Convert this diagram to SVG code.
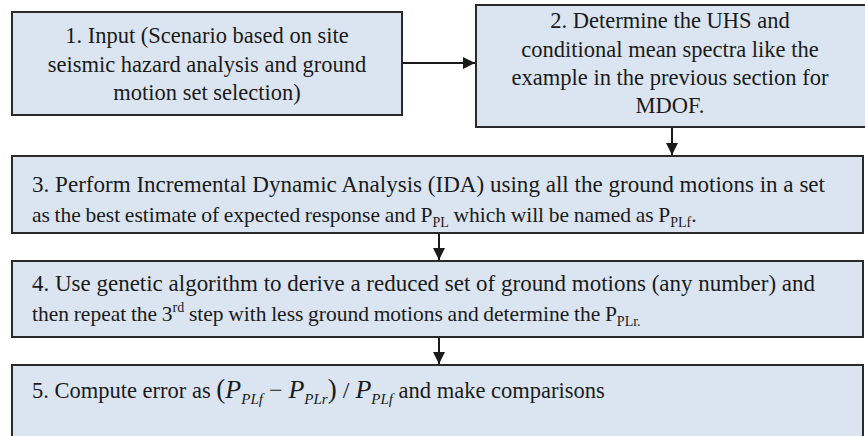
<svg xmlns="http://www.w3.org/2000/svg" width="865" height="436" viewBox="0 0 865 436">
<defs>
<style>
.box{fill:#dbe5f1;stroke:#2a2a2a;stroke-width:2}
text{font-family:'Liberation Serif','Times New Roman',serif;font-size:22.5px;fill:#1a1a1a}
.c{text-anchor:middle}
.n{font-size:21.5px;word-spacing:-0.7px}
.s{font-size:14px}
.m{font-style:italic}
.line{stroke:#1a1a1a;stroke-width:2;fill:none}
</style>
<marker id="ah" viewBox="0 0 10 10" refX="10" refY="5" markerWidth="6" markerHeight="6" markerUnits="strokeWidth" orient="auto">
<path d="M0,0 L10,5 L0,10 z" fill="#1a1a1a"/>
</marker>
</defs>
<rect width="865" height="436" fill="#ffffff"/>
<g id="connectors">
<line class="line" x1="402" y1="63" x2="475" y2="63" marker-end="url(#ah)"/>
<line class="line" x1="672" y1="127" x2="672" y2="155" marker-end="url(#ah)"/>
<line class="line" x1="439" y1="233" x2="439" y2="260" marker-end="url(#ah)"/>
<line class="line" x1="439" y1="337" x2="439" y2="364" marker-end="url(#ah)"/>
</g>
<g id="node1">
<rect class="box" x="12" y="12" width="390" height="103"/>
<text class="c" x="207" y="43">1. Input (Scenario based on site</text>
<text class="c" x="207" y="72">seismic hazard analysis and ground</text>
<text class="c" x="207" y="100">motion set selection)</text>
</g>
<g id="node2">
<rect class="box" x="476" y="5" width="392" height="122"/>
<text class="c" x="670" y="28">2. Determine the UHS and</text>
<text class="c" x="670" y="57">conditional mean spectra like the</text>
<text class="c" x="670" y="85">example in the previous section for</text>
<text class="c" x="670" y="113">MDOF.</text>
</g>
<g id="node3">
<rect class="box" x="12" y="156" width="851" height="77"/>
<text x="32" y="192" textLength="793" lengthAdjust="spacingAndGlyphs">3. Perform Incremental Dynamic Analysis (IDA) using all the ground motions in a set</text>
<text class="n" x="32" y="222">as the best estimate of expected response and P<tspan class="s" dy="5">PL</tspan><tspan dy="-5"> which will be named as P</tspan><tspan class="s" dy="5">PLf</tspan><tspan dy="-5">.</tspan></text>
</g>
<g id="node4">
<rect class="box" x="12" y="261" width="851" height="76"/>
<text x="32" y="291" textLength="783" lengthAdjust="spacingAndGlyphs">4. Use genetic algorithm to derive a reduced set of ground motions (any number) and</text>
<text class="n" x="32" y="321">then repeat the 3<tspan class="s" dy="-9">rd</tspan><tspan dy="9"> step with less ground motions and determine the P</tspan><tspan class="s" dy="5">PLr.</tspan></text>
</g>
<g id="node5">
<rect class="box" x="12" y="365" width="851" height="80"/>
<text x="32" y="398">5. Compute error as <tspan font-size="27px">(</tspan><tspan class="m" font-size="26px">P</tspan><tspan class="m" font-size="15px" dy="6">PLf</tspan><tspan dy="-6" font-size="24px"> − </tspan><tspan class="m" font-size="26px">P</tspan><tspan class="m" font-size="15px" dy="6">PLr</tspan><tspan dy="-6" font-size="27px">)</tspan><tspan font-size="24px"> / </tspan><tspan class="m" font-size="26px">P</tspan><tspan class="m" font-size="15px" dy="6">PLf</tspan><tspan dy="-6"> and make comparisons</tspan></text>
</g>
</svg>
